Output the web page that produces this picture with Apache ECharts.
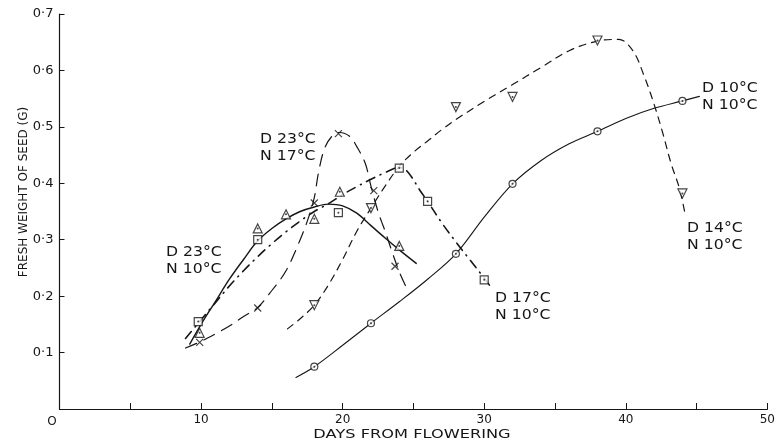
<!DOCTYPE html>
<html>
<head>
<meta charset="utf-8">
<script src="https://cdn.jsdelivr.net/npm/echarts@6/dist/echarts.min.js"></script>
<style>
  html, body { margin: 0; padding: 0; background: #ffffff; }
  #chart { width: 778px; height: 443px; }
</style>
</head>
<body>
<div id="chart"></div>
<script>
// Fitted growth curves: [days from flowering, fresh weight of seed (g)]
const curveD23N10 = [[9.2,0.115],[10,0.15],[11,0.19],[12,0.23],[13,0.265],[14,0.298],[15,0.32],[16,0.337],[17,0.35],[18,0.358],[19,0.363],[20,0.36],[21,0.347],[22,0.325],[23,0.303],[24,0.282],[25.2,0.258]];
const curveD23N17 = [[8.9,0.108],[10,0.12],[11,0.133],[12,0.147],[13,0.164],[14,0.18],[15,0.21],[16,0.245],[17,0.3],[17.6,0.34],[18,0.375],[18.3,0.42],[18.7,0.46],[19.2,0.482],[19.8,0.49],[20.5,0.483],[21,0.465],[21.6,0.435],[22,0.395],[22.5,0.35],[23,0.315],[23.5,0.278],[24,0.243],[24.6,0.21]];
const curveD17N10 = [[8.9,0.125],[10,0.158],[11,0.188],[12,0.218],[13,0.245],[14,0.27],[15,0.293],[16,0.314],[17,0.333],[18,0.35],[19,0.364],[20,0.38],[21,0.394],[22,0.407],[23,0.419],[24,0.428],[24.6,0.42],[25.5,0.386],[26,0.368],[27,0.33],[28,0.296],[29,0.264],[30,0.232],[30.5,0.215]];
const curveD14N10 = [[16.1,0.142],[17,0.16],[18,0.184],[19,0.22],[20,0.265],[21,0.315],[22,0.356],[23,0.395],[24,0.43],[25,0.455],[26,0.475],[27,0.495],[28,0.513],[30,0.545],[32,0.575],[34,0.605],[36,0.635],[38,0.652],[39.5,0.655],[40.5,0.635],[41.3,0.59],[42,0.54],[42.6,0.49],[43.2,0.435],[43.8,0.39],[44.2,0.344]];
const curveD10N10 = [[16.7,0.056],[18,0.075],[20,0.113],[22,0.152],[24,0.19],[26,0.23],[28,0.275],[30,0.34],[32,0.399],[34,0.44],[36,0.47],[38,0.492],[40,0.515],[42,0.533],[44,0.546],[45.2,0.554]];

// Measured seed weights
const pointsD23N10 = [[9.9,0.135],[14,0.32],[16,0.345],[18,0.337],[19.8,0.385],[24,0.289]];
const pointsD23N17 = [[9.9,0.118],[14,0.179],[18,0.365],[19.7,0.488],[22.2,0.387],[23.7,0.253]];
const pointsD17N10 = [[9.8,0.155],[14,0.30],[19.7,0.348],[24,0.427],[26,0.368],[30,0.229]];
const pointsD14N10 = [[18,0.184],[22,0.356],[28,0.535],[32,0.553],[38,0.653],[44,0.382]];
const pointsD10N10 = [[18,0.075],[22,0.152],[28,0.275],[32,0.399],[38,0.492],[44,0.546]];

// Axis ticks
const xTickLabels = [0, 10, 20, 30, 40, 50];
const yTickLabels = ['0·1', '0·2', '0·3', '0·4', '0·5', '0·6', '0·7'];

const INK = '#161616';
const FONT = 'DejaVu Sans';

const chart = echarts.init(document.getElementById('chart'), null, { renderer: 'canvas' });

function curve(data, type, width) {
  return {
    type: 'line', data: data, smooth: 0.35, showSymbol: false, symbol: 'none',
    lineStyle: { color: INK, width: width, type: type, cap: 'round' },
    silent: true, z: 2
  };
}
function marks(data, symbol, size, rotate) {
  return {
    type: 'scatter', data: data, symbol: symbol, symbolSize: size, symbolRotate: rotate || 0,
    itemStyle: { color: '#ffffff', borderColor: INK, borderWidth: 1.2 },
    silent: true, z: 4
  };
}
const crossPath = 'path://M0,0L10,10M10,0L0,10';
const centreDots = [].concat(pointsD23N10, pointsD17N10, pointsD14N10, pointsD10N10);

const labelStyle = { fontFamily: FONT, fontSize: 14, fill: INK, lineHeight: 17, textVerticalAlign: 'middle' };
function note(text, x, y) {
  return { type: 'text', x: x, y: y, scaleX: 1.12, style: Object.assign({ text: text }, labelStyle), z: 10 };
}

chart.setOption({
  animation: false,
  backgroundColor: '#ffffff',
  grid: { left: 59.5, right: 10, top: 14, bottom: 34, containLabel: false },
  xAxis: {
    type: 'value', min: 0, max: 50, interval: 5,
    axisLine: { show: true, lineStyle: { color: INK, width: 1.2 } },
    axisTick: { show: true, inside: true, length: 6, lineStyle: { color: INK, width: 1 } },
    splitLine: { show: false },
    axisLabel: {
      margin: 5, color: INK, fontFamily: FONT, fontSize: 12,
      formatter: function (v) {
        if (xTickLabels.indexOf(v) < 0) return '';
        return v === 0 ? '{o|O}' : String(v);
      },
      rich: { o: { padding: [2, 15, 0, 0], fontFamily: FONT, fontSize: 12, color: INK } }
    }
  },
  yAxis: {
    type: 'value', min: 0, max: 0.7, interval: 0.1,
    axisLine: { show: true, lineStyle: { color: INK, width: 1.2 } },
    axisTick: { show: true, inside: true, length: 5, lineStyle: { color: INK, width: 1 } },
    splitLine: { show: false },
    axisLabel: {
      margin: 6, color: INK, fontFamily: FONT, fontSize: 13,
      formatter: function (v) {
        const i = Math.round(v * 10);
        return i === 0 ? '' : yTickLabels[i - 1];
      }
    }
  },
  graphic: [
    { type: 'text', x: 24, y: 192, rotation: Math.PI / 2,
      style: { text: 'FRESH WEIGHT OF SEED (G)', fontFamily: FONT, fontSize: 12, fill: INK, textAlign: 'center', textVerticalAlign: 'middle' } },
    { type: 'text', x: 412, y: 435, scaleX: 1.35,
      style: { text: 'DAYS FROM FLOWERING', fontFamily: FONT, fontSize: 12, fill: INK, textAlign: 'center', textVerticalAlign: 'middle' } },
    note('D 23°C\nN 17°C', 260, 148),
    note('D 23°C\nN 10°C', 166, 261),
    note('D 17°C\nN 10°C', 495, 307),
    note('D 10°C\nN 10°C', 702, 97),
    note('D 14°C\nN 10°C', 687, 237)
  ],
  series: [
    curve(curveD23N10, 'solid', 1.4),
    curve(curveD23N17, [12, 8], 1.2),
    curve(curveD17N10, [9, 6, 1, 6], 1.6),
    curve(curveD14N10, [7, 6], 1.2),
    curve(curveD10N10, 'solid', 1.1),
    marks(pointsD23N10, 'triangle', 9),
    marks(pointsD23N17, crossPath, 7),
    marks(pointsD17N10, 'rect', 8),
    marks(pointsD14N10, 'triangle', 9, 180),
    marks(pointsD10N10, 'circle', 7),
    { type: 'scatter', data: centreDots, symbol: 'circle', symbolSize: 2,
      itemStyle: { color: INK }, silent: true, z: 5 }
  ]
});
</script>
</body>
</html>
